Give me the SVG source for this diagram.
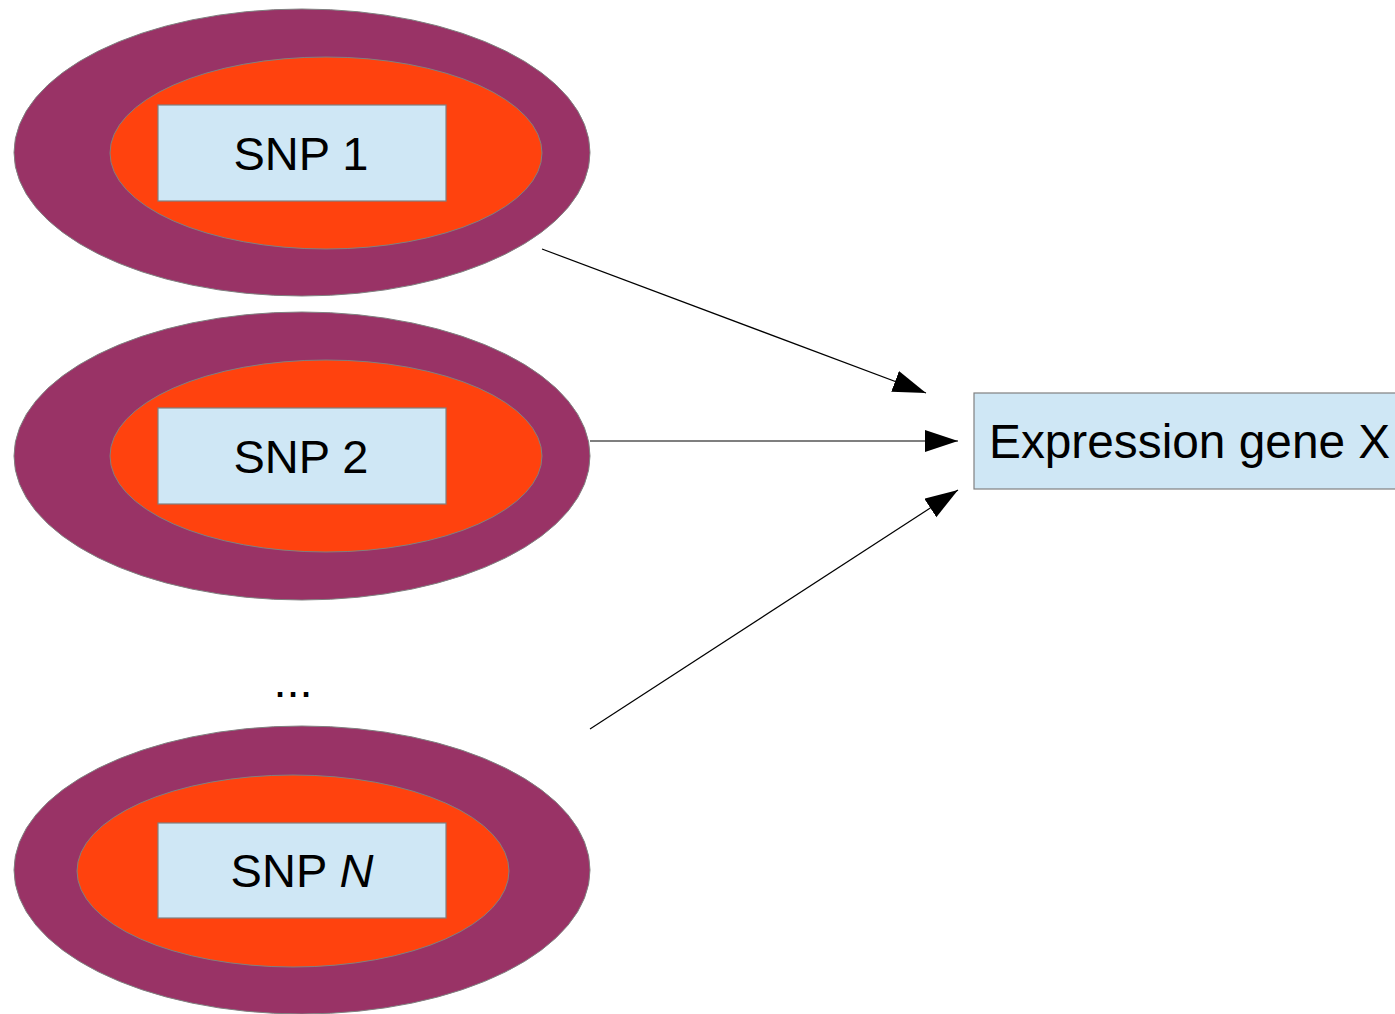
<svg xmlns="http://www.w3.org/2000/svg" width="1395" height="1014" viewBox="0 0 1395 1014">
<style>
.outer{fill:#993366;stroke:#808080;stroke-width:1}
.inner{fill:#ff420e;stroke:#808080;stroke-width:1}
.box{fill:#cfe7f5;stroke:#808080;stroke-width:1.2}
.lbl{font-family:"Liberation Sans",Arial,sans-serif;font-size:47px;fill:#000}
.conn{stroke:#000;stroke-width:1.2;fill:none}
</style>
<defs>
<marker id="ah" markerUnits="userSpaceOnUse" markerWidth="34" markerHeight="24" refX="33" refY="11" orient="auto">
<path d="M0,0 L33,11 L0,22 z" fill="#000"/>
</marker>
</defs>
<rect width="1395" height="1014" fill="#fff"/>
<g id="snp1">
<ellipse class="outer" cx="302" cy="152.5" rx="288" ry="143.5"/>
<ellipse class="inner" cx="326" cy="153" rx="216" ry="96"/>
<rect class="box" x="158" y="105" width="288" height="96"/>
<text class="lbl" x="301" y="170" text-anchor="middle">SNP 1</text>
</g>
<g id="snp2">
<ellipse class="outer" cx="302" cy="456" rx="288" ry="144"/>
<ellipse class="inner" cx="326" cy="456" rx="216" ry="96"/>
<rect class="box" x="158" y="408" width="288" height="96"/>
<text class="lbl" x="301" y="473" text-anchor="middle">SNP 2</text>
</g>
<g id="dots">
<text class="lbl" x="293" y="697" text-anchor="middle">...</text>
</g>
<g id="snpN">
<ellipse class="outer" cx="302" cy="870" rx="288" ry="144"/>
<ellipse class="inner" cx="293" cy="871" rx="216" ry="96"/>
<rect class="box" x="158" y="823" width="288" height="95"/>
<text class="lbl" x="302" y="887" text-anchor="middle">SNP <tspan font-style="italic">N</tspan></text>
</g>
<g id="expr">
<rect class="box" x="974" y="393" width="440" height="96"/>
<text class="lbl" x="989" y="458" style="font-size:47.8px">Expression gene X</text>
</g>
<g id="connectors">
<line class="conn" x1="542" y1="249" x2="926" y2="393" marker-end="url(#ah)"/>
<line class="conn" x1="590" y1="441" x2="958" y2="441" marker-end="url(#ah)"/>
<line class="conn" x1="590" y1="729" x2="958" y2="490" marker-end="url(#ah)"/>
</g>
</svg>
